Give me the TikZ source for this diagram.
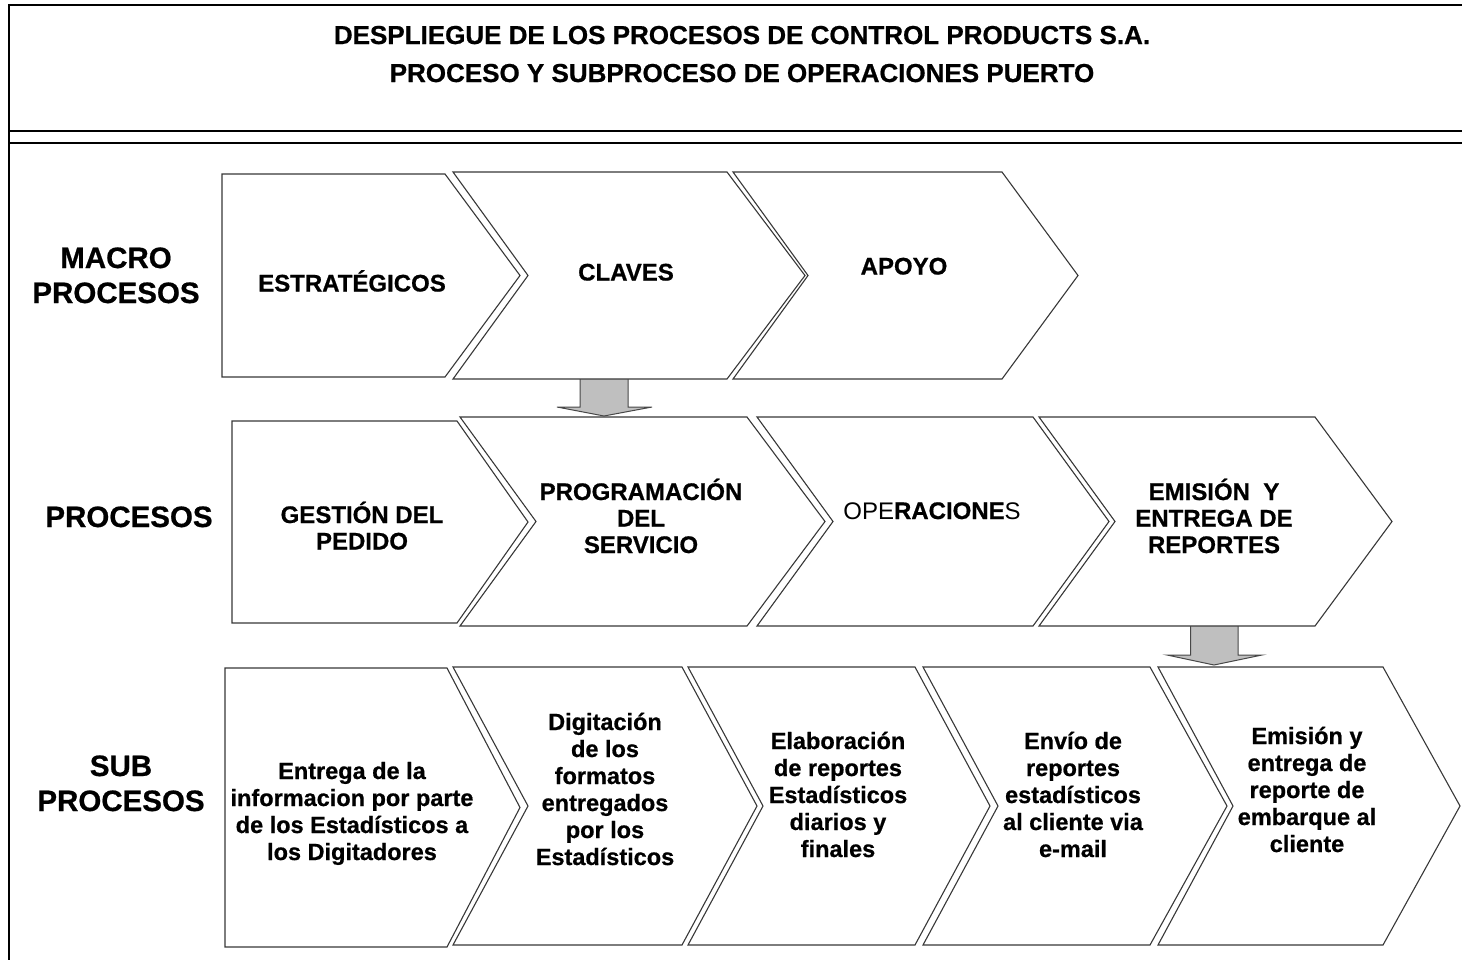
\documentclass[tikz,border=0pt]{standalone}
\usepackage{fontspec}
\setmainfont{Liberation Sans}[BoldFeatures={FakeBold=0.7}]
\usetikzlibrary{calc}
% #1 name, #2 left x, #3 right x (top corner), #4 top y, #5 bottom y, #6 notch depth, #7 point depth
\newcommand{\chevbox}[7]{%
  \draw[chev] (#2,#4) -- (#3,#4) -- ({#3+#7},{(#4+#5)/2}) -- (#3,#5) -- (#2,#5) -- ({#2+#6},{(#4+#5)/2}) -- cycle;
  \coordinate (#1) at ({(#2+#3)/2},{(#4+#5)/2});}
\begin{document}
\begin{tikzpicture}[x=1pt,y=-1pt,
  chev/.style={draw=black!78,line width=1.1pt,fill=white,line join=miter},
  frame/.style={draw=black,line width=2pt},
  barrow/.style={draw=black!72,line width=1pt,fill=black!25,line join=miter},
  lab/.style={font=\bfseries\fontsize{23.5}{27}\selectfont,align=center,anchor=base,inner sep=0pt},
  captxt/.style={font=\bfseries\fontsize{24}{26.5}\selectfont,align=center,anchor=base,inner sep=0pt},
  side/.style={font=\bfseries\fontsize{29.5}{35}\selectfont,align=center,anchor=base,inner sep=0pt},
  ttl/.style={font=\bfseries\fontsize{26}{38}\selectfont,align=center,anchor=base,inner sep=0pt}]
\useasboundingbox (0,0) rectangle (1462,959);
\clip (0,0) rectangle (1462,959);

% frame
\draw[frame] (9,975) -- (9,5) -- (1475,5);
\draw[frame] (9,131) -- (1475,131);
\draw[frame] (9,143) -- (1475,143);

% (anchor=base of a multi-line node = baseline of its last line)
\node[ttl] (title) at (742,82) {DESPLIEGUE DE LOS PROCESOS DE CONTROL PRODUCTS S.A.\\PROCESO Y SUBPROCESO DE OPERACIONES PUERTO};

% block arrows (drawn first, chevrons cover their ends)
\coordinate (a1s) at (604,379); \coordinate (a1e) at (604,416);
\draw[barrow] ($(a1s)+(-24,0)$) -- ($(a1e)+(-24,-9)$) -- ($(a1e)+(-47,-9)$) -- (a1e)
  -- ($(a1e)+(48,-9)$) -- ($(a1e)+(24,-9)$) -- ($(a1s)+(24,0)$);
\coordinate (a2s) at (1214,626); \coordinate (a2e) at (1214,665);
\draw[barrow] ($(a2s)+(-23.5,0)$) -- ($(a2e)+(-23.5,-10)$) -- ($(a2e)+(-47,-10)$) -- (a2e)
  -- ($(a2e)+(48,-10)$) -- ($(a2e)+(24,-10)$) -- ($(a2s)+(24,0)$);

% row 1: macro procesos
\chevbox{estr}{222}{445}{174}{377}{0}{75}
\chevbox{clav}{453}{727}{172}{379}{75}{78}
\chevbox{apoy}{733}{1002}{172}{379}{75}{76}
% row 2: procesos
\chevbox{gest}{232}{457}{421}{623}{0}{71}
\chevbox{prog}{460}{747}{417}{626}{76}{78}
\chevbox{oper}{757}{1033}{417}{626}{76}{76}
\chevbox{emis}{1039}{1315}{417}{626}{76}{77}
% row 3: sub procesos
\chevbox{entr}{225}{447}{668}{947}{0}{73}
\chevbox{digi}{453}{682}{667}{945}{75}{75}
\chevbox{elab}{688}{915}{667}{945}{75}{75}
\chevbox{envi}{923}{1150}{667}{945}{75}{77}
\chevbox{emsy}{1158}{1383}{667}{945}{75}{77}

% side labels
\node[side] (lmacro) at (116,303) {MACRO\\PROCESOS};
\node[side] (lproc) at (129,527) {PROCESOS};
\node[side] (lsub) at (121,811) {SUB\\PROCESOS};

% row 1 texts
\node[captxt] (testr) at (352,291.5) {ESTRATÉGICOS};
\node[captxt] (tclav) at (626,280.5) {CLAVES};
\node[captxt] (tapoy) at (904,274.5) {APOYO};

% row 2 texts
\node[captxt] (tgest) at (362,549.5) {GESTIÓN DEL\\PEDIDO};
\node[captxt] (tprog) at (641,553) {PROGRAMACIÓN\\DEL\\SERVICIO};
\node[captxt] (toper) at (932,519) {{\mdseries OPE}RACIONE{\mdseries S}};
\node[captxt] (temis) at (1214,553) {EMISIÓN~~Y\\ENTREGA DE\\REPORTES};

% row 3 texts
\node[lab] (tentr) at (352,860) {Entrega de la\\informacion por parte\\de los Estadísticos a\\los Digitadores};
\node[lab] (tdigi) at (605,865) {Digitación\\de los\\formatos\\entregados\\por los\\Estadísticos};
\node[lab] (telab) at (838,857) {Elaboración\\de reportes\\Estadísticos\\diarios y\\finales};
\node[lab] (tenvi) at (1073,857) {Envío de\\reportes\\estadísticos\\al cliente via\\e-mail};
\node[lab] (temsy) at (1307,852) {Emisión y\\entrega de\\reporte de\\embarque al\\cliente};
\end{tikzpicture}
\end{document}
